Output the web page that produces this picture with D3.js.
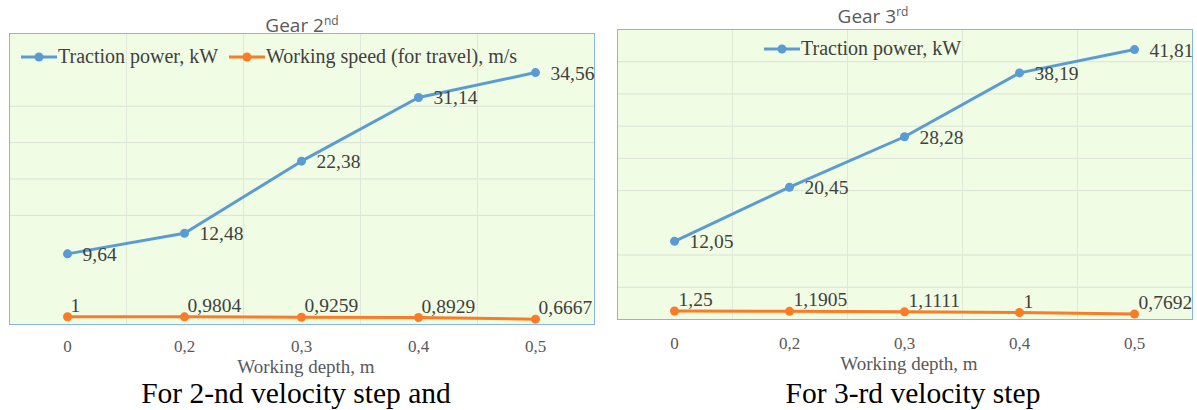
<!DOCTYPE html>
<html>
<head>
<meta charset="utf-8">
<script src="https://cdn.jsdelivr.net/npm/d3@7"></script>
<style>
  body { margin: 0; background: #fff; }
  svg { display: block; }
</style>
</head>
<body>
<div id="chart"></div>
<script>
// data
var depths = ['0', '0,2', '0,3', '0,4', '0,5'];
var power2 = [9.64, 12.48, 22.38, 31.14, 34.56];
var speed2 = [1, 0.9804, 0.9259, 0.8929, 0.6667];
var power3 = [12.05, 20.45, 28.28, 38.19, 41.81];
var speed3 = [1.25, 1.1905, 1.1111, 1, 0.7692];
var gridTicks2 = [15, 20, 25, 30];
var gridTicks3 = [5, 10, 20, 25, 30, 35, 40];
var yMax2 = 40;
var yMax3 = 45;

var blue = '#5B9BD5';
var orange = '#FC7B25';
var serif = '"Liberation Serif", "Times New Roman", serif';
var sans = '"Open Sans", "DejaVu Sans", sans-serif';

var fmt = function (v) { return String(v).replace('.', ','); };

var svg = d3.select('#chart').append('svg')
    .attr('width', 1197)
    .attr('height', 410);

function drawChart(opt) {
    var x = d3.scaleBand().domain(depths).range([opt.left, opt.right]);
    var y = d3.scaleLinear().domain([0, opt.yMax]).range([opt.bottom, opt.top]);
    var cx = function (d, i) { return x(depths[i]) + x.bandwidth() / 2; };

    var g = svg.append('g');

    // plot area
    g.append('rect')
        .attr('x', opt.left).attr('y', opt.top)
        .attr('width', opt.right - opt.left)
        .attr('height', opt.bottom - opt.top)
        .attr('fill', '#F0FCE4');

    // horizontal grid
    g.append('g')
        .attr('transform', 'translate(' + opt.left + ',0)')
        .call(d3.axisLeft(y).tickValues(opt.grid).tickSize(-(opt.right - opt.left)).tickFormat(''))
        .call(function (a) { a.select('.domain').remove(); })
        .selectAll('line').attr('stroke', '#DCE2D6').attr('stroke-width', 1);

    // vertical grid at the category boundaries
    g.append('g').selectAll('line')
        .data(depths.slice(1))
        .join('line')
        .attr('x1', function (d) { return Math.round(x(d)) + 0.5; })
        .attr('x2', function (d) { return Math.round(x(d)) + 0.5; })
        .attr('y1', opt.top).attr('y2', opt.bottom)
        .attr('stroke', '#E2E7DC');

    g.append('rect')
        .attr('x', opt.left + 0.5).attr('y', opt.top + 0.5)
        .attr('width', opt.right - opt.left)
        .attr('height', opt.bottom - opt.top)
        .attr('fill', 'none')
        .attr('stroke', '#88B6E2');

    // x axis labels
    var ax = g.append('g')
        .attr('transform', 'translate(0,' + opt.bottom + ')')
        .call(d3.axisBottom(x).tickSize(0).tickPadding(opt.tickPad));
    ax.select('.domain').remove();
    ax.selectAll('text')
        .attr('font-family', serif)
        .attr('font-size', 17)
        .attr('fill', '#595959');

    var line = d3.line()
        .x(cx)
        .y(function (d) { return y(d); });

    opt.series.forEach(function (s) {
        g.append('path')
            .datum(s.values)
            .attr('d', line)
            .attr('fill', 'none')
            .attr('stroke', s.color)
            .attr('stroke-width', 3)
            .attr('stroke-linejoin', 'round');

        g.append('g').selectAll('circle')
            .data(s.values)
            .join('circle')
            .attr('cx', cx)
            .attr('cy', function (d) { return y(d); })
            .attr('r', 4.5)
            .attr('fill', s.color);

        g.append('g').selectAll('text')
            .data(s.values)
            .join('text')
            .attr('x', function (d, i) { return cx(d, i) + s.dx; })
            .attr('y', function (d) { return y(d) + s.dy; })
            .attr('font-family', serif)
            .attr('font-size', 19.5)
            .attr('fill', '#404040')
            .text(fmt);
    });

    // legend
    opt.legend.forEach(function (item) {
        var lg = g.append('g').attr('transform', 'translate(' + item.x + ',' + opt.legendY + ')');
        lg.append('line')
            .attr('x1', 0).attr('x2', 36)
            .attr('y1', -6).attr('y2', -6)
            .attr('stroke', item.color).attr('stroke-width', 3);
        lg.append('circle')
            .attr('cx', 18).attr('cy', -6).attr('r', 4.5)
            .attr('fill', item.color);
        lg.append('text')
            .attr('x', 37)
            .attr('font-family', serif)
            .attr('font-size', 20)
            .attr('fill', '#404040')
            .text(item.name);
    });

    // title
    var t = g.append('text')
        .attr('x', opt.titleX).attr('y', opt.titleY)
        .attr('text-anchor', 'middle')
        .attr('font-family', sans)
        .attr('font-size', 19)
        .attr('fill', '#595959')
        .text(opt.title[0]);
    t.append('tspan')
        .attr('font-size', 12)
        .attr('dy', -7)
        .text(opt.title[1]);

    g.append('text')
        .attr('x', opt.axisX).attr('y', opt.axisY)
        .attr('text-anchor', 'middle')
        .attr('font-family', serif)
        .attr('font-size', 19)
        .attr('fill', '#595959')
        .text('Working depth, m');

    g.append('text')
        .attr('x', opt.captionX).attr('y', 403)
        .attr('text-anchor', 'middle')
        .attr('font-family', serif)
        .attr('font-size', 29.5)
        .attr('fill', '#000')
        .text(opt.caption);
}

drawChart({
    left: 9, right: 594, top: 33, bottom: 324,
    yMax: yMax2, grid: gridTicks2, tickPad: 16,
    series: [
        { values: power2, color: blue, dx: 15, dy: 7 },
        { values: speed2, color: orange, dx: 3, dy: -5 }
    ],
    legendY: 63,
    legend: [
        { x: 21, name: 'Traction power, kW', color: blue },
        { x: 229, name: 'Working speed (for travel), m/s', color: orange }
    ],
    title: ['Gear 2', 'nd'], titleX: 302, titleY: 32,
    axisX: 306, axisY: 373,
    caption: 'For 2-nd velocity step and', captionX: 296
});

drawChart({
    left: 617, right: 1192, top: 29, bottom: 319,
    yMax: yMax3, grid: gridTicks3, tickPad: 18,
    series: [
        { values: power3, color: blue, dx: 15, dy: 7 },
        { values: speed3, color: orange, dx: 4, dy: -5 }
    ],
    legendY: 55,
    legend: [
        { x: 764, name: 'Traction power, kW', color: blue }
    ],
    title: ['Gear 3', 'rd'], titleX: 873, titleY: 23,
    axisX: 909, axisY: 370,
    caption: 'For 3-rd velocity step', captionX: 913
});
</script>
</body>
</html>
